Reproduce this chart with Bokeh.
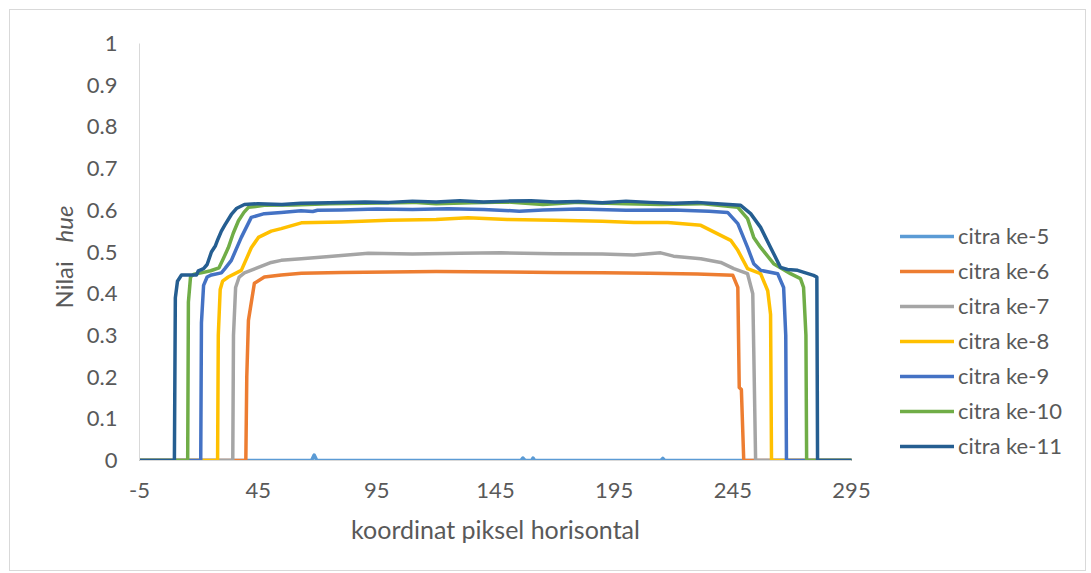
import math
from bokeh.plotting import figure
from bokeh.layouts import row
from bokeh.models import Range1d, FixedTicker, Legend, LegendItem, Label
from bokeh.embed import file_html
from bokeh.resources import INLINE

# ---------------- data ----------------
series_names = ["citra ke-5", "citra ke-6", "citra ke-7", "citra ke-8",
                "citra ke-9", "citra ke-10", "citra ke-11"]
series_colors = ["#5B9BD5", "#ED7D31", "#A5A5A5", "#FFC000",
                 "#4472C4", "#70AD47", "#255E91"]

ke5_x = [-5, 67.5, 68.6, 69.7, 155.7, 156.5, 157.5, 160.2, 160.8, 161.5, 214.7, 215.5, 216.3, 295]
ke5_y = [0, 0, 0.013, 0, 0, 0.006, 0, 0, 0.006, 0, 0, 0.005, 0, 0]

ke6_x = [-5, 39.8, 40.2, 40.9, 43.4, 47.6, 54.7, 63.2, 80, 100, 120, 150, 170, 190, 210, 230,
         245, 247.1, 247.7, 248.6, 249.6, 295]
ke6_y = [0, 0, 0.2, 0.336, 0.425, 0.44, 0.445, 0.449, 0.451, 0.452, 0.453, 0.452, 0.451, 0.45,
         0.449, 0.447, 0.444, 0.415, 0.175, 0.17, 0, 0]

ke7_x = [-5, 34.3, 34.6, 35.5, 37, 39.2, 45.1, 50.5, 54.7, 63.2, 75, 91.4, 110, 130, 147.3, 170,
         190, 203.3, 214.6, 220, 231.5, 239.9, 245.4, 251.2, 253.4, 253.8, 254.6, 295]
ke7_y = [0, 0, 0.3, 0.415, 0.44, 0.45, 0.463, 0.475, 0.48, 0.484, 0.489, 0.497, 0.495, 0.497,
         0.498, 0.496, 0.495, 0.493, 0.498, 0.49, 0.484, 0.475, 0.46, 0.448, 0.40, 0.27, 0, 0]

ke8_x = [-5, 27.9, 28.2, 29, 30, 32.4, 37.9, 42.1, 45.1, 50.5, 54.7, 63.2, 80, 100, 120, 133.4,
         150, 170, 190, 203.3, 217.6, 231.5, 239.9, 244.1, 247.1, 251.2, 256.7, 259.7, 260.9,
         261.3, 295]
ke8_y = [0, 0, 0.3, 0.41, 0.43, 0.44, 0.456, 0.51, 0.535, 0.55, 0.556, 0.57, 0.572, 0.576, 0.578,
         0.582, 0.578, 0.576, 0.574, 0.571, 0.571, 0.564, 0.54, 0.528, 0.504, 0.46, 0.448, 0.407,
         0.35, 0, 0]

ke9_x = [-5, 20.8, 21.1, 22, 23.5, 25.3, 29.5, 31, 33.7, 37.9, 42.1, 47.6, 54.7, 63, 68, 70, 80,
         95, 110, 125, 140, 155, 165, 180, 200, 220, 235, 242.8, 247.1, 251.2, 253.8, 256.7,
         263.9, 266.4, 267.3, 267.6, 295]
ke9_y = [0, 0, 0.33, 0.42, 0.44, 0.445, 0.45, 0.46, 0.48, 0.535, 0.583, 0.592, 0.595, 0.599,
         0.597, 0.6, 0.601, 0.603, 0.602, 0.604, 0.602, 0.598, 0.601, 0.603, 0.6, 0.601, 0.598,
         0.595, 0.568, 0.511, 0.472, 0.456, 0.448, 0.415, 0.3, 0, 0]

ke10_x = [-5, 15.3, 15.6, 16.5, 18, 21, 25, 28.5, 30, 32.4, 34.5, 36.7, 39, 40.9, 47.6, 60, 75,
          90, 110, 120, 135, 150, 165, 180, 200, 215, 231.5, 247.1, 251.2, 253.8, 256.7, 262.2,
          269.3, 273.5, 274.8, 275.8, 276.1, 295]
ke10_y = [0, 0, 0.38, 0.44, 0.447, 0.45, 0.455, 0.462, 0.48, 0.51, 0.545, 0.575, 0.595, 0.607,
          0.612, 0.613, 0.616, 0.617, 0.619, 0.616, 0.618, 0.62, 0.614, 0.619, 0.616, 0.614,
          0.616, 0.607, 0.58, 0.535, 0.511, 0.472, 0.448, 0.436, 0.415, 0.3, 0, 0]

ke11_x = [-5, 9.7, 10.1, 11, 12.7, 19, 19.8, 22, 23.5, 25.3, 27, 28, 29.5, 31, 33.7, 36, 39.2,
          45, 55, 63, 75, 90, 100, 110, 120, 130, 140, 150, 160, 170, 180, 190, 200, 210, 220,
          230, 240, 248.3, 252.5, 256.7, 260.9, 265.1, 268, 272.3, 279, 280.4, 280.7, 295]
ke11_y = [0, 0, 0.39, 0.43, 0.445, 0.445, 0.455, 0.46, 0.47, 0.50, 0.515, 0.53, 0.55, 0.565,
          0.59, 0.605, 0.614, 0.616, 0.614, 0.617, 0.618, 0.62, 0.619, 0.622, 0.62, 0.623, 0.62,
          0.622, 0.623, 0.62, 0.621, 0.618, 0.622, 0.619, 0.617, 0.619, 0.615, 0.612, 0.592,
          0.559, 0.511, 0.463, 0.458, 0.456, 0.444, 0.44, 0, 0]

series_x = [ke5_x, ke6_x, ke7_x, ke8_x, ke9_x, ke10_x, ke11_x]
series_y = [ke5_y, ke6_y, ke7_y, ke8_y, ke9_y, ke10_y, ke11_y]

x_ticks = [-5, 45, 95, 145, 195, 245, 295]
x_tick_labels = ["-5", "45", "95", "145", "195", "245", "295"]
y_ticks = [0, 0.1, 0.2, 0.3, 0.4, 0.5, 0.6, 0.7, 0.8, 0.9, 1]
y_tick_labels = ["0", "0.1", "0.2", "0.3", "0.4", "0.5", "0.6", "0.7", "0.8", "0.9", "1"]

x_title = "koordinat piksel horisontal"
y_title_plain = "Nilai"
y_title_italic = "hue"

# ---------------- style ----------------
FONT = "Lato"
TXT = "#595959"
H = 560
FRAME_TOP = 33      # frame top inside the canvases (plots in a row share frame edges)
FRAME_H = 417
LINE_W = 3.5


def blank(width, xr=(0, 1)):
    f = figure(width=width, height=H, output_backend="svg", toolbar_location=None,
               x_range=Range1d(*xr), y_range=Range1d(0, 1), min_border=0,
               x_axis_location=None, y_axis_location=None)
    f.grid.visible = False
    f.outline_line_color = None
    return f


def frac(y_canvas):
    return 1 - (y_canvas - FRAME_TOP) / FRAME_H


# ---------------- y-axis title strip ----------------
yt = blank(73)
yt.add_layout(Label(x=53 / 73, y=frac(298), text=y_title_plain, angle=math.pi / 2,
                    text_align="left", text_baseline="middle", text_font=FONT,
                    text_font_size="24px", text_color=TXT))
yt.add_layout(Label(x=53 / 73, y=frac(195), text=y_title_italic, angle=math.pi / 2,
                    text_align="right", text_baseline="middle", text_font=FONT,
                    text_font_size="24px", text_font_style="italic", text_color=TXT))

# ---------------- main chart ----------------
p = figure(width=798, height=H, output_backend="svg", toolbar_location=None,
           x_range=Range1d(-5, 295), y_range=Range1d(0, 1),
           min_border_left=55, min_border_right=30, min_border_top=FRAME_TOP,
           min_border_bottom=H - FRAME_TOP - FRAME_H)
p.outline_line_color = None
p.xgrid.visible = False
p.ygrid.visible = False

for ax in (p.xaxis, p.yaxis):
    ax.axis_line_color = "#D9D9D9"
    ax.axis_line_width = 1
    ax.major_tick_line_color = None
    ax.minor_tick_line_color = None
    ax.major_tick_in = 0
    ax.major_tick_out = 0
    ax.major_label_text_font = FONT
    ax.major_label_text_font_size = "22px"
    ax.major_label_text_color = TXT

p.xaxis.ticker = FixedTicker(ticks=x_ticks)
p.yaxis.ticker = FixedTicker(ticks=y_ticks)
p.xaxis.major_label_overrides = dict(zip(x_ticks, x_tick_labels))
p.yaxis.major_label_overrides = dict(zip(y_ticks, y_tick_labels))
p.xaxis.major_label_standoff = 22
p.yaxis.major_label_standoff = 22

p.xaxis.axis_label = x_title
p.xaxis.axis_label_text_font = FONT
p.xaxis.axis_label_text_font_size = "25px"
p.xaxis.axis_label_text_font_style = "normal"
p.xaxis.axis_label_text_color = TXT
p.xaxis.axis_label_standoff = 13

for xs, ys, c in zip(series_x, series_y, series_colors):
    p.line(xs, ys, line_color=c, line_width=LINE_W, line_join="round", line_cap="round")

# ---------------- legend strip (same series, kept out of view; only the legend shows) ----
lg = blank(204, xr=(1000, 1001))
items = []
for n, xs, ys, c in zip(series_names, series_x, series_y, series_colors):
    r = lg.line(xs, ys, line_color=c, line_width=LINE_W, line_cap="round")
    items.append(LegendItem(label=n, renderers=[r]))
legend = Legend(items=items, location=(19, 1), glyph_width=54, glyph_height=20,
                label_height=20, spacing=8, padding=0, margin=0, label_standoff=4,
                border_line_color=None, background_fill_alpha=0,
                label_text_font=FONT, label_text_font_size="22px", label_text_color=TXT)
lg.add_layout(legend)

layout = row(yt, p, lg)
layout.styles = {"border": "1px solid #D9D9D9", "margin-left": "9px", "margin-top": "9px"}

open("out.html", "w").write(file_html(layout, INLINE))
